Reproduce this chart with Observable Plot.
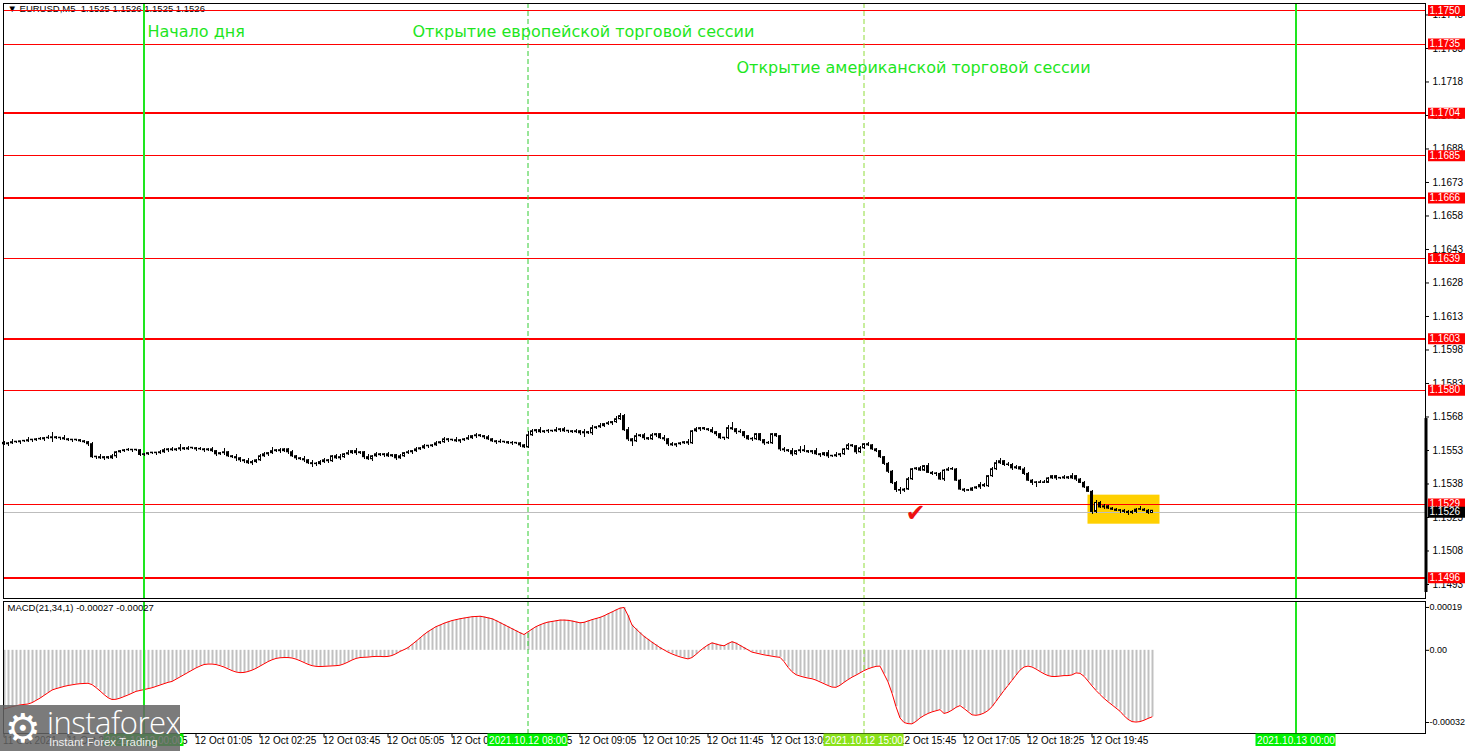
<!DOCTYPE html>
<html><head><meta charset="utf-8">
<script src="https://cdn.jsdelivr.net/npm/d3@7"></script>
<script src="https://cdn.jsdelivr.net/npm/@observablehq/plot@0.6"></script>
<style>
html,body{margin:0;padding:0;background:#fff;overflow:hidden;}
#wrap{position:relative;width:1467px;height:751px;overflow:hidden;font-family:"Liberation Sans",Arial,sans-serif;}
#wrap svg{position:absolute;left:0;overflow:visible;}
#logo{position:absolute;left:0;top:705px;width:180px;height:46px;background:rgba(100,100,100,0.85);color:#fff;}
#logo .gear{position:absolute;left:5px;top:1px;font-family:"DejaVu Sans";font-size:40px;line-height:44px;}
#logo .name{position:absolute;left:47px;top:0px;font-family:"Open Sans","Liberation Sans",sans-serif;font-weight:300;font-size:31px;line-height:34px;letter-spacing:-0.5px;}
#logo .tag{position:absolute;left:49px;top:30px;font-family:"Liberation Sans",sans-serif;font-size:11.5px;line-height:14px;color:#eee;}
</style></head><body><div id="wrap"></div>
<script>
// ---------- DATA ----------
// M5 EURUSD closes, in pips above 1.1500, one per candle from 11 Oct 21:05 to 12 Oct 21:00
const closesPips = [
55.8,56.2,56.7,56.7,57.1,57.1,57.6,57.6,58.0,58.0,
58.5,58.5,58.9,58.5,58.5,58.0,57.6,57.6,57.6,57.1,
56.7,55.8,50.0,50.0,49.5,50.0,49.5,50.4,52.2,52.7,
53.1,53.1,53.1,53.1,51.0,51.3,51.8,51.8,51.8,52.2,
53.1,53.5,53.1,53.5,54.0,53.5,54.0,54.0,53.5,53.5,
53.1,53.5,52.7,51.3,51.8,52.2,50.4,50.0,49.5,48.6,
48.2,47.3,47.8,48.6,50.4,51.3,51.8,52.7,53.1,52.7,
53.5,52.2,50.4,49.5,49.1,48.6,47.3,46.9,46.9,47.8,
48.6,48.2,50.4,49.5,50.0,51.3,51.8,52.7,51.8,52.2,
50.0,49.1,50.4,51.3,50.9,51.3,50.4,50.9,49.5,50.4,
51.8,52.2,52.7,53.5,54.0,54.9,54.9,55.3,56.2,56.7,
58.0,57.6,57.6,57.1,57.6,58.0,58.5,59.4,59.8,59.4,
58.9,58.0,57.1,56.7,56.7,56.7,56.2,56.2,56.2,55.3,
54.4,59.8,61.6,62.1,61.2,61.6,61.6,61.6,62.1,62.5,
61.6,61.6,61.2,61.6,60.7,61.2,60.7,63.0,63.4,63.9,
64.8,65.2,65.7,67.0,68.4,62.1,58.0,57.1,59.4,59.8,
58.5,58.0,59.8,60.3,58.5,58.0,55.8,55.3,55.8,56.2,
56.7,56.2,61.6,62.5,63.0,62.5,62.1,61.2,60.3,58.5,
58.5,63.0,62.5,61.2,61.2,59.4,58.0,58.0,60.3,57.6,
56.2,56.2,60.3,59.4,53.5,53.1,52.7,51.3,52.7,53.1,
52.7,52.2,52.7,51.3,50.9,51.8,50.4,50.4,50.9,51.3,
53.5,55.3,54.9,52.2,54.0,55.8,55.3,53.5,52.7,50.0,
47.0,43.5,38.4,35.3,35.0,35.5,40.1,44.6,45.0,44.0,
46.0,43.0,42.5,42.5,40.0,44.0,44.5,44.5,39.5,35.5,
35.0,35.0,36.0,36.5,37.5,37.0,41.5,44.6,47.3,48.2,
46.5,46.5,45.0,45.5,44.5,42.5,39.5,38.5,38.5,38.5,
38.5,40.5,41.5,40.5,40.5,41.0,40.5,41.5,40.0,38.5,
36.5,34.5,25.5,29.5,27.5,28.0,27.0,26.5,26.0,26.0,
25.5,25.0,25.5,26.5,26.5,26.0,25.0,26.0
];
const firstOpenPips = 56.4;
// upper / lower shadow lengths per candle, in half-pips
const upperWicks = ["1121012112","1241121011","1121211211","1211110112","2121312112","1121131121","1211221312","1121121211","2112212121","1212112112","1212121121","2112112121","1211211211","1321212121","2112121212","1212212121","2121121211","1212111211","1251211211","1211121213","4112112121","1211212111","1111212112","1211112211","1111211222","1212121112","2111121211","1112121111","11113110"].join("");
const lowerWicks = ["1211211211","2141211211","1212121121","1121111121","1211211121","2112121132","2121112112","1212121321","1211211121","2121121121","1121112111","1211211121","2112111212","1112112112","1211241211","1121112511","2112122121","1211211121","2112121211","2111221212","1121212112","1112111111","1212321111","1112121111","2111211111","1121111241","1112111121","1121121112","12111110"].join("");
// MACD(21,34,1) main = signal, in units of 1e-5
const macdE5 = [
-26,-25.5,-25,-24.6,-24.2,-24,-23.8,-23.2,-22.2,-21.2,
-20,-18.8,-17.6,-17,-16.5,-16,-15.6,-15.3,-15,-14.8,
-14.7,-14.6,-15.2,-16.5,-18,-19.6,-21,-21.8,-21.7,-21.2,
-20.5,-19.8,-19,-18.2,-17.8,-17.4,-17,-16.6,-16,-15.4,
-14.8,-14.2,-13.8,-12.8,-11.8,-10.8,-9.8,-8.8,-7.8,-7,
-6.3,-6.1,-6.1,-6.3,-6.8,-7.4,-8.2,-9,-9.6,-9.9,
-9.8,-9.4,-8.8,-8,-7,-6,-5,-4.2,-3.6,-3.3,
-3.2,-3.2,-3.4,-3.9,-4.6,-5.4,-6.2,-6.8,-7.1,-7.2,
-7.1,-7,-6.9,-6.8,-6.6,-6,-5.2,-4.3,-3.6,-3.2,
-3.1,-3,-2.8,-2.7,-2.7,-2.8,-2.7,-2.3,-1.5,-0.5,
0.3,1.2,2.6,4,5.5,7,8.3,9.4,10.5,11.2,
12,12.6,13.2,13.6,14,14.3,14.6,14.9,15,15.1,
14.8,14.4,14,13.2,12.3,11.4,10.5,9.6,8.7,7.8,
7,8.2,9.4,10.5,11.3,12,12.5,12.8,13.1,13.4,
13.4,13.3,13,12.6,12.2,12.4,13,13.6,14.1,14.6,
15.3,16.2,17,17.9,18.7,19,15.5,11.2,9.5,7.8,
6.2,4.9,3.6,2.4,1.2,0.2,-0.8,-1.6,-2.3,-2.9,
-3.4,-3.8,-3.2,-1.8,-0.2,1.2,2.4,3.3,2.8,2.3,
2,3,3.8,3.2,2.2,1.2,0.2,-0.8,-1.2,-1.6,
-2,-2.3,-2.6,-2.9,-3.1,-5,-7.5,-9.5,-10.8,-11.4,
-11.9,-12.3,-12.6,-13.2,-14,-14.8,-15.6,-16.3,-16.4,-15.5,
-14.2,-13,-11.9,-11,-10,-9,-8.2,-7.6,-7.1,-7,
-10.5,-14,-19,-25,-30,-32,-32.5,-32.6,-31.5,-30,
-28.9,-28,-27.3,-26.8,-26.3,-28,-27.5,-26.5,-25.3,-24.5,
-25.8,-27.2,-28.6,-28.8,-28.5,-27.8,-26.7,-25,-22.6,-20.2,
-17.8,-15.6,-13.3,-11,-8.8,-7.4,-7,-7.4,-8.3,-9.4,
-10.4,-11.2,-11.6,-11.6,-11.4,-11.2,-11.2,-10.9,-10,-10.2,
-11.5,-13.6,-15.8,-17.8,-19.6,-21.3,-22.8,-24.2,-25.6,-27,
-29,-30.6,-31.6,-31.8,-31.6,-31,-30.2,-29.5
];
const levels = [1.1750,1.1735,1.1704,1.1685,1.1666,1.1639,1.1603,1.1580,1.1529,1.1496];
const boldLevels = [1.1704,1.1666,1.1603,1.1496];
const priceTicks = [1.1493,1.1508,1.1523,1.1538,1.1553,1.1568,1.1583,1.1598,1.1613,1.1628,1.1643,1.1658,1.1673,1.1688,1.1703,1.1718,1.1733,1.1748];
const lastPrice = [1.1526];
const macdTicks = [19, 0, -32];
const macdTickLabels = ["0.00019", "0.00", "-0.00032"];
const timeLabelIdx = [0,16,32,48,64,80,96,112,128,144,160,176,192,208,224,240,256,272];
const timeLabels = ["11 Oct 2021","11 Oct 22:25","11 Oct 23:45","12 Oct 01:05","12 Oct 02:25","12 Oct 03:45","12 Oct 05:05","12 Oct 06:25","12 Oct 07:45","12 Oct 09:05","12 Oct 10:25","12 Oct 11:45","12 Oct 13:05","12 Oct 14:25","12 Oct 15:45","12 Oct 17:05","12 Oct 18:25","12 Oct 19:45"];
const dayStartIdx = [35, 323];
const sessionIdx = [131, 215];
const dateIdx = [35, 131, 215, 323];
const dateLabels = ["2021.10.12 00:00","2021.10.12 08:00","2021.10.12 15:00","2021.10.13 00:00"];
const highlightBox = [{i1: 271, i2: 289, p1: 1.1520, p2: 1.1533}];
const rangeBar = [{p1: 1.14894, p2: 1.15673}];
const headerText = "\u25BC\u00A0EURUSD,M5\u00A0\u00A01.1525\u00A01.1526\u00A01.1525\u00A01.1526";
const macdTitle = "MACD(21,34,1) -0.00027 -0.00027";
const noteDay = "Начало дня";
const noteEU = "Открытие европейской торговой сессии";
const noteUS = "Открытие американской торговой сессии";

// ---------- BUILD ----------
const BASE = 1.15, PIP = 1e-4;
const candles = closesPips.map((c, i) => {
  const close = BASE + c * PIP;
  const open = BASE + (i === 0 ? firstOpenPips : closesPips[i - 1]) * PIP;
  const hw = +(upperWicks[i] ?? 1), lw = +(lowerWicks[i] ?? 1);
  return {i, open, close, high: Math.max(open, close) + hw * 0.5 * PIP, low: Math.min(open, close) - lw * 0.5 * PIP, bull: close > open};
});
const macd = macdE5.map((v, i) => ({i, v}));

const W = 1467;
const X_DOMAIN = [-0.125, 355.375];           // candle i -> pixel 3.5 + 4 i
const px2i = px => (px - 3.5) / 4;            // layout helper for the right price gutter
const FONT = "Liberation Sans, Arial, sans-serif";
const GREEN = "#1ee61e";
const DOJI = 0.000022;

const wrap = document.getElementById("wrap");

const main = Plot.plot({
  width: W, height: 600,
  marginTop: 3, marginBottom: 2, marginLeft: 3, marginRight: 42,
  x: {domain: X_DOMAIN, axis: null},
  y: {domain: [1.1496, 1.1750], range: [577.3, 10], axis: null},
  color: {type: "identity"},
  style: {fontFamily: FONT, fontSize: "10px", background: "transparent", color: "black"},
  marks: [
    Plot.text([headerText], {frameAnchor: "top-left", dx: 4, dy: 2, lineAnchor: "top", text: d => d, fontSize: 9.5, fill: "black"}),
    Plot.rect(highlightBox, {x1: "i1", x2: "i2", y1: "p1", y2: "p2", fill: "#ffd000"}),
    Plot.ruleY(lastPrice, {stroke: "#bdbdbd", strokeWidth: 1, dy: 1.5, shapeRendering: "crispEdges"}),
    Plot.ruleY(levels, {stroke: "#ff0000", strokeWidth: d => boldLevels.includes(d) ? 2 : 1, shapeRendering: "crispEdges"}),
    Plot.ruleX(sessionIdx, {x: d => d, stroke: (d, k) => k === 0 ? "#33cc33" : "#8fdc3a", strokeDasharray: "5,3", strokeWidth: 1}),
    Plot.ruleX(dayStartIdx, {x: d => d, stroke: GREEN, strokeWidth: 2}),
    Plot.ruleX(candles, {x: "i", y1: "low", y2: "high", stroke: "black", strokeWidth: 1, shapeRendering: "crispEdges"}),
    Plot.rect(candles, {
      x1: d => d.i - 0.375, x2: d => d.i + 0.375,
      y1: d => Math.max(d.open, d.close) + (d.open === d.close ? DOJI : 0),
      y2: d => Math.min(d.open, d.close),
      insetLeft: 0.5, insetRight: 0.5,
      fill: d => d.bull ? "white" : "black", stroke: "black", strokeWidth: 1
    }),
    Plot.text([noteDay], {frameAnchor: "top-left", dx: 144, dy: 22, lineAnchor: "top", textAnchor: "start", fontSize: 16, fontFamily: "DejaVu Sans", fill: GREEN}),
    Plot.text([noteEU], {frameAnchor: "top-left", dx: 409, dy: 22.5, lineAnchor: "top", textAnchor: "start", fontSize: 16, fontFamily: "DejaVu Sans", fill: GREEN}),
    Plot.text([noteUS], {frameAnchor: "top-left", dx: 733, dy: 58.5, lineAnchor: "top", textAnchor: "start", fontSize: 16, fontFamily: "DejaVu Sans", fill: GREEN}),
    Plot.text(["\u2714"], {frameAnchor: "top-left", dx: 912, dy: 510, textAnchor: "middle", lineAnchor: "middle", fontSize: 24, fontFamily: "DejaVu Sans", fill: "#ee1111"}),
    Plot.axisY({anchor: "right", label: null, ticks: priceTicks, tickFormat: d => d.toFixed(4), tickSize: 3, tickPadding: 4, fontSize: 10, stroke: "black"}),
    Plot.ruleY(levels, {y: d => d, x1: () => px2i(1428), x2: () => px2i(1465), stroke: "#ff0000", strokeWidth: 11}),
    Plot.text(levels, {y: d => d, x: () => px2i(1429), text: d => d.toFixed(4), textAnchor: "start", fill: "white", fontSize: 10}),
    Plot.ruleY(lastPrice, {y: d => d, x1: () => px2i(1428), x2: () => px2i(1465), stroke: "black", strokeWidth: 11, dy: 1.5}),
    Plot.text(lastPrice, {y: d => d, x: () => px2i(1429), text: d => d.toFixed(4), textAnchor: "start", fill: "white", fontSize: 10, dy: 1.5}),
    Plot.ruleX(rangeBar, {x: () => X_DOMAIN[1], y1: "p1", y2: "p2", stroke: "black", strokeWidth: 3, dx: 0.5}),
    Plot.frame({stroke: "black", strokeWidth: 1, shapeRendering: "crispEdges"})
  ]
});
main.style.top = "0px";
wrap.appendChild(main);

const sub = Plot.plot({
  width: W, height: 151,
  marginTop: 1, marginBottom: 18, marginLeft: 3, marginRight: 42,
  x: {domain: X_DOMAIN, axis: null},
  y: {domain: [-32, 19], range: [122, 6.96], axis: null},
  color: {type: "identity"},
  style: {fontFamily: FONT, fontSize: "10px", background: "transparent", color: "black"},
  marks: [
    Plot.ruleX(macd, {x: "i", y1: () => 0, y2: "v", stroke: "#c0c0c0", strokeWidth: 2, dx: 0.5}),
    Plot.line(macd, {x: "i", y: "v", stroke: "#ff0000", strokeWidth: 1}),
    Plot.ruleX(sessionIdx, {x: d => d, stroke: (d, k) => k === 0 ? "#33cc33" : "#8fdc3a", strokeDasharray: "5,3", strokeWidth: 1}),
    Plot.ruleX(dayStartIdx, {x: d => d, stroke: GREEN, strokeWidth: 2}),
    Plot.text([macdTitle], {frameAnchor: "top-left", dx: 4, dy: 3, lineAnchor: "top", text: d => d, fontSize: 9.5, fill: "black"}),
    Plot.axisY({anchor: "right", label: null, ticks: macdTicks, tickFormat: (d) => macdTickLabels[macdTicks.indexOf(d)], tickSize: 3, tickPadding: 1, fontSize: 9, stroke: "black"}),
    Plot.frame({stroke: "black", strokeWidth: 1, shapeRendering: "crispEdges"})
  ]
});
sub.style.top = "600px";
wrap.appendChild(sub);

const band = Plot.plot({
  width: W, height: 18,
  marginTop: 0, marginBottom: 0, marginLeft: 3, marginRight: 42,
  x: {domain: X_DOMAIN, axis: null},
  y: {domain: [0, 18], range: [0, 18], axis: null},
  color: {type: "identity"},
  style: {fontFamily: FONT, fontSize: "10px", background: "transparent", color: "black"},
  marks: [
    Plot.ruleX(timeLabelIdx, {x: d => d, y1: () => 0, y2: () => 4, stroke: "black"}),
    Plot.text(timeLabelIdx, {x: d => d, y: () => 7.5, text: (d, k) => timeLabels[k], textAnchor: "start", dx: -1, fontSize: 10, fill: "black"}),
    Plot.rect(dateIdx, {x1: d => d - 10, x2: d => d + 10, y1: () => 0.5, y2: () => 13, fill: (d, k) => k === 2 ? "#8ae21a" : "#00f000"}),
    Plot.text(dateIdx, {x: d => d, y: () => 7, text: (d, k) => dateLabels[k], fill: "white", fontSize: 10, textAnchor: "middle"})
  ]
});
band.style.top = "733px";
wrap.appendChild(band);

const logo = document.createElement("div");
logo.id = "logo";
logo.innerHTML = '<span class="gear">\u2699</span><span class="name">instaforex</span><span class="tag">Instant Forex Trading</span>';
wrap.appendChild(logo);
</script>
</body></html>
